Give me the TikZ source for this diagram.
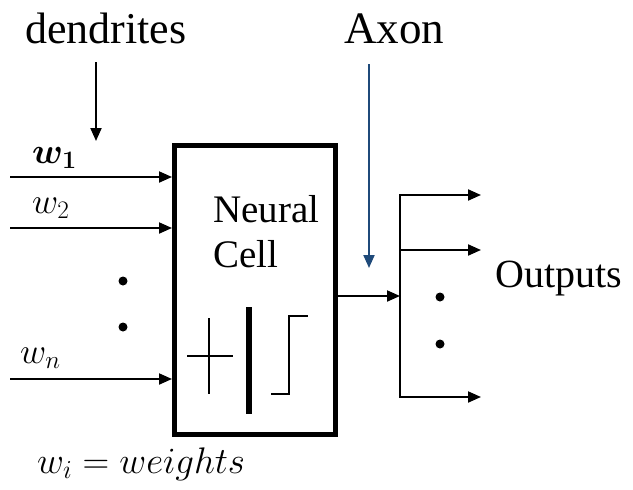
\RequirePackage{fix-cm}
\documentclass[tikz,border=0pt]{standalone}
\usepackage{fontspec}
\usepackage{bm}
\setmainfont{Liberation Serif}
\usetikzlibrary{arrows.meta}
\definecolor{axonblue}{HTML}{1F4A7A}
\tikzset{
  conn/.style={line width=2pt,-{Triangle[length=13pt,width=11pt]}},
  plain/.style={line width=2pt},
  lbl/.style={inner sep=0pt,anchor=base west},
  dot/.style={circle,fill=black,inner sep=0pt,minimum size=9pt},
  mathlbl/.style={lbl,font=\fontsize{36}{40}\selectfont},
}
\begin{document}
\begin{tikzpicture}[x=1pt,y=-1pt]
\useasboundingbox (0,0) rectangle (633,490);
% titles
\node[lbl,font=\fontsize{44}{48}\selectfont] (dend) at (25,43) {dendrites};
\node[lbl,font=\fontsize{45}{48}\selectfont] (axon) at (344,43) {Axon};
\coordinate (dtop) at (96,62);
\coordinate (dtip) at (96,141);
\draw[conn] (dtop) -- (dtip);
\coordinate (atop) at (369,64);
\coordinate (atip) at (369,268);
\draw[conn,color=axonblue] (atop) -- (atip);
% box
\node[draw,line width=4.5pt,minimum width=161pt,minimum height=289pt,inner sep=0pt,anchor=north west] (cell) at (172,143) {};
\node[lbl,font=\fontsize{39}{42}\selectfont] (neural) at (213,222) {Neural};
\node[lbl,font=\fontsize{39}{42}\selectfont] (cellt) at (213,267) {Cell};
% symbols
\coordinate (ph1) at (187,356); \coordinate (ph2) at (233,356);
\coordinate (pv1) at (209,318); \coordinate (pv2) at (209,394);
\draw[line width=1.5pt] (ph1) -- (ph2) (pv1) -- (pv2);
\coordinate (b1) at (249,307); \coordinate (b2) at (249,414);
\draw[line width=6pt] (b1) -- (b2);
\coordinate (s1) at (271,394); \coordinate (s2) at (289,394);
\coordinate (s3) at (289,316); \coordinate (s4) at (308,316);
\draw[line width=1.5pt] (s1) -- (s2) -- (s3) -- (s4);
% inputs
\coordinate (i1) at (10,177); \coordinate (i2) at (10,228); \coordinate (i3) at (10,379);
\draw[conn] (i1) -- (cell.west |- i1);
\draw[conn] (i2) -- (cell.west |- i2);
\draw[conn] (i3) -- (cell.west |- i3);
\node[mathlbl] (w1) at (32,163) {$\bm{w_1}$};
\node[mathlbl] (w2) at (32,213) {$w_2$};
\node[mathlbl] (wn) at (20,363) {$w_n$};
\node[dot] (d1) at (123,281) {};
\node[dot] (d2) at (123,327) {};
% output
\coordinate (junc) at (400,296);
\draw[conn] (cell.east |- junc) -- (junc);
\coordinate (bt) at (400,195); \coordinate (bb) at (400,397); \coordinate (bm) at (400,250);
\coordinate (ot) at (481,195); \coordinate (om) at (481,250); \coordinate (ob) at (481,397);
\draw[plain,line cap=rect] (bt) -- (bb);
\draw[conn] (bt) -- (ot);
\draw[conn] (bm) -- (om);
\draw[conn] (bb) -- (ob);
\node[dot] (od1) at (440,297) {};
\node[dot] (od2) at (440,344) {};
\node[lbl,font=\fontsize{40}{44}\selectfont] (outs) at (495,287) {Outputs};
% legend
\node[lbl,font=\fontsize{37}{40}\selectfont] (leg) at (37,473) {$w_i = weights$};
\end{tikzpicture}
\end{document}
